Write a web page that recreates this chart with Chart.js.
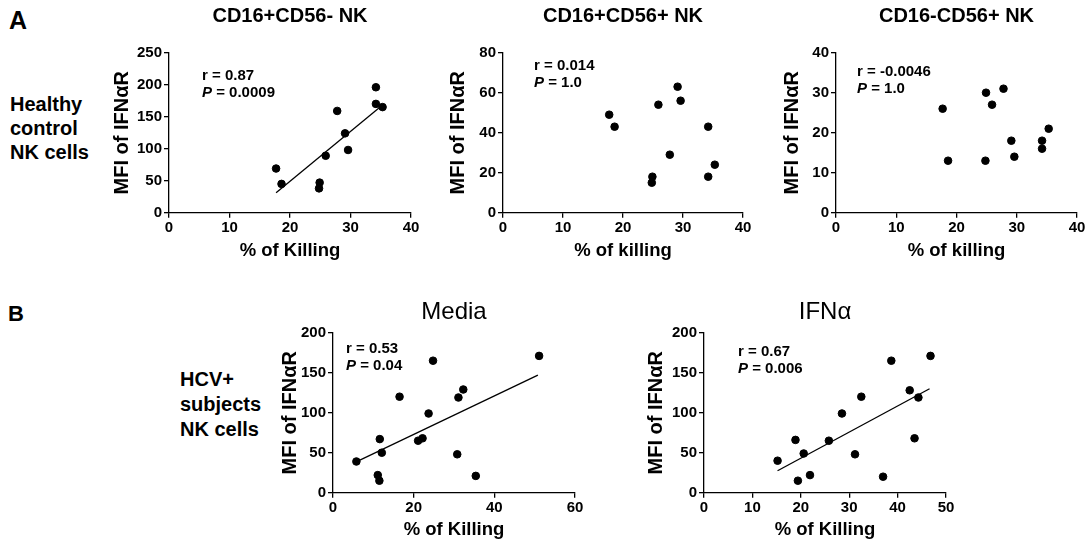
<!DOCTYPE html>
<html>
<head>
<meta charset="utf-8">
<script src="https://cdn.jsdelivr.net/npm/chart.js@4/dist/chart.umd.min.js"></script>
<style>
  html, body { margin: 0; padding: 0; background: #fff; overflow: hidden; }
  body { width: 1085px; height: 544px; position: relative; font-family: "Liberation Sans", Arial, sans-serif; }
  canvas { position: absolute; }
  .lbl { position: absolute; font-weight: bold; color: #000; }
  .group { font-size: 20px; line-height: 24px; }
</style>
</head>
<body>
<div class="lbl" style="left:9px;top:6px;font-size:25px;">A</div>
<div class="lbl" style="left:8px;top:301px;font-size:22px;">B</div>
<div class="lbl group" style="left:10px;top:92px;">Healthy<br>control<br>NK cells</div>
<div class="lbl group" style="left:180px;top:367px;line-height:25px;">HCV+<br>subjects<br>NK cells</div>

<canvas id="a1" width="317" height="262" style="left:109px;top:0px;"></canvas>
<canvas id="a2" width="313" height="262" style="left:445px;top:0px;"></canvas>
<canvas id="a3" width="313" height="262" style="left:779px;top:0px;"></canvas>
<canvas id="b1" width="313" height="251" style="left:277px;top:290px;"></canvas>
<canvas id="b2" width="318" height="251" style="left:643px;top:290px;"></canvas>

<script>
// healthy controls (panel A) - same donors in all three subsets
const healthyKilling = [17.7, 18.6, 24.8, 24.9, 25.9, 27.8, 29.1, 29.6, 34.2, 34.2, 35.3];
const mfiCD56neg = [69, 45, 38, 47, 89, 159, 124, 98, 196, 170, 165];
const mfiCD56pos = [49, 43, 15, 18, 54, 29, 63, 56, 43, 18, 24];
const mfiCD16neg = [26, 13, 13, 30, 27, 31, 18, 14, 18, 16, 21];
const fitCD56neg = [[17.7, 31], [35.0, 166]];

// HCV+ subjects (panel B)
const mediaKilling = [5.8, 11.6, 11.1, 11.5, 12.1, 16.5, 21.1, 22.2, 23.7, 24.8, 31.1, 32.3, 30.8, 35.4, 51.1];
const mediaMfi = [39, 67, 22, 15, 50, 120, 65, 68, 99, 165, 119, 129, 48, 21, 171];
const mediaFit = [[6.4, 40], [50.8, 147]];

const ifnKilling = [15.2, 18.9, 19.4, 20.6, 21.9, 25.8, 28.5, 31.2, 32.5, 37.0, 38.7, 42.5, 43.5, 44.3, 46.8];
const ifnMfi = [40, 66, 15, 49, 22, 65, 99, 48, 120, 20, 165, 128, 68, 119, 171];
const ifnFit = [[15.2, 27.5], [46.6, 130]];

const FONT = '"Liberation Sans", Arial, sans-serif';

const toPoints = (xs, ys) => xs.map((x, i) => ({ x: x, y: ys[i] }));

// r / P text in the upper left of the plot
const statsPlugin = {
    id: 'stats',
    afterDraw(chart, args, opts) {
        const ctx = chart.ctx;
        const area = chart.chartArea;
        const x = area.left + opts.dx;
        const y = area.top + opts.dy;
        ctx.save();
        ctx.fillStyle = '#000';
        ctx.textBaseline = 'middle';
        ctx.textAlign = 'left';
        ctx.font = 'bold 15px ' + FONT;
        ctx.fillText('r = ' + opts.r, x, y);
        ctx.font = 'italic bold 15px ' + FONT;
        ctx.fillText('P', x, y + 17);
        const w = ctx.measureText('P').width;
        ctx.font = 'bold 15px ' + FONT;
        ctx.fillText(' = ' + opts.p, x + w, y + 17);
        ctx.restore();
    }
};

const makeChart = (id, cfg) => {
    const ctx = document.getElementById(id).getContext('2d');
    const datasets = [{
        data: toPoints(cfg.xs, cfg.ys),
        backgroundColor: '#000',
        borderColor: '#000',
        pointRadius: 3.8,
        pointHoverRadius: 3.8
    }];
    if (cfg.fit) {
        datasets.push({
            data: cfg.fit.map(p => ({ x: p[0], y: p[1] })),
            showLine: true,
            borderColor: '#000',
            borderWidth: 1.3,
            pointRadius: 0
        });
    }
    const axisGrid = {
        display: true,
        drawOnChartArea: false,
        drawTicks: true,
        tickLength: 5,
        color: '#000',
        lineWidth: 1.3
    };
    const tickFont = { family: FONT, size: 15, weight: 'bold' };
    return new Chart(ctx, {
        type: 'scatter',
        data: { datasets: datasets },
        plugins: [statsPlugin],
        options: {
            responsive: false,
            animation: false,
            events: [],
            layout: { padding: { left: 0, right: 15, top: cfg.padTop, bottom: 0 } },
            plugins: {
                legend: { display: false },
                tooltip: { enabled: false },
                title: {
                    display: true,
                    text: cfg.title,
                    fullSize: false,
                    color: '#000',
                    font: { family: FONT, size: cfg.titleSize, weight: cfg.titleWeight, lineHeight: 1.2 },
                    padding: { top: 0, bottom: cfg.titleGap }
                },
                stats: { r: cfg.r, p: cfg.p, dx: cfg.dx, dy: cfg.dy }
            },
            scales: {
                x: {
                    type: 'linear',
                    min: 0,
                    max: cfg.xMax,
                    ticks: { stepSize: cfg.xStep, color: '#000', padding: 1, font: tickFont },
                    grid: axisGrid,
                    border: { display: true, color: '#000', width: 1.3 },
                    title: {
                        display: true,
                        text: cfg.xTitle,
                        color: '#000',
                        padding: { top: 0, bottom: 0 },
                        font: { family: FONT, size: 18.5, weight: 'bold', lineHeight: 1.2 }
                    },
                    afterFit: s => { s.height = cfg.xH; }
                },
                y: {
                    min: 0,
                    max: cfg.yMax,
                    ticks: { stepSize: cfg.yStep, color: '#000', padding: 2, font: tickFont },
                    grid: axisGrid,
                    border: { display: true, color: '#000', width: 1.3 },
                    title: {
                        display: true,
                        text: 'MFI of IFN\u03b1R',
                        color: '#000',
                        padding: { top: 1, bottom: 0 },
                        font: { family: FONT, size: 20, weight: 'bold', lineHeight: 1.2 }
                    },
                    afterFit: s => { s.width = cfg.yW; }
                }
            }
        }
    });
};

const panelA = { padTop: 4, titleSize: 20, titleWeight: 'bold', titleGap: 24.7, xMax: 40, xStep: 10, xH: 49.3 };
const panelB = { padTop: 8, titleSize: 24, titleWeight: 'normal', titleGap: 5.9, yMax: 200, yStep: 50, xH: 48.3, xTitle: '% of Killing' };

makeChart('a1', Object.assign({}, panelA, {
    title: 'CD16+CD56- NK', xs: healthyKilling, ys: mfiCD56neg, fit: fitCD56neg,
    yMax: 250, yStep: 50, yW: 60, xTitle: '% of Killing',
    r: '0.87', p: '0.0009', dx: 33, dy: 23
}));
makeChart('a2', Object.assign({}, panelA, {
    title: 'CD16+CD56+ NK', xs: healthyKilling, ys: mfiCD56pos,
    yMax: 80, yStep: 20, yW: 58, xTitle: '% of killing',
    r: '0.014', p: '1.0', dx: 31, dy: 13.5
}));
makeChart('a3', Object.assign({}, panelA, {
    title: 'CD16-CD56+ NK', xs: healthyKilling, ys: mfiCD16neg,
    yMax: 40, yStep: 10, yW: 57, xTitle: '% of killing',
    r: '-0.0046', p: '1.0', dx: 21, dy: 19
}));
makeChart('b1', Object.assign({}, panelB, {
    title: 'Media', xs: mediaKilling, ys: mediaMfi, fit: mediaFit,
    xMax: 60, xStep: 20, yW: 56,
    r: '0.53', p: '0.04', dx: 13, dy: 16.6
}));
makeChart('b2', Object.assign({}, panelB, {
    title: 'IFN\u03b1', xs: ifnKilling, ys: ifnMfi, fit: ifnFit,
    xMax: 50, xStep: 10, yW: 61,
    r: '0.67', p: '0.006', dx: 34, dy: 19
}));
</script>
</body>
</html>
